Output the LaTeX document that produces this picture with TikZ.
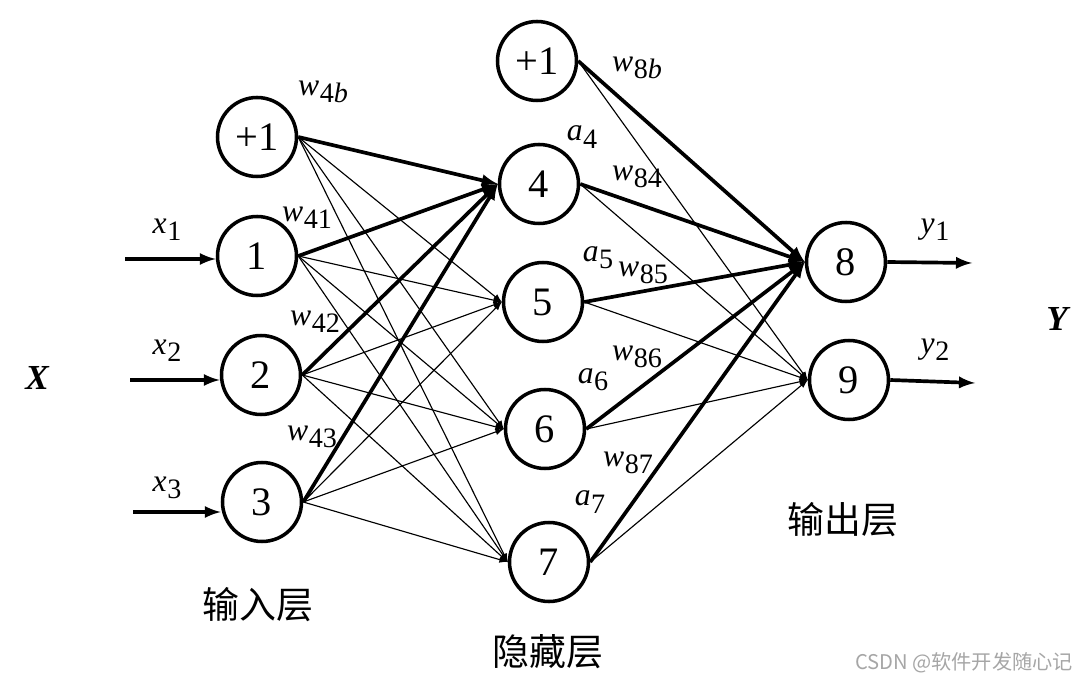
\documentclass[tikz,border=0pt]{standalone}
\usepackage{fontspec}
\setmainfont{Liberation Serif}
\newfontfamily\cjk{Noto Sans CJK SC}
\newcommand{\wsub}[2]{\textit{#1}\kern0.3pt\raisebox{-0.5ex}{\fontsize{16}{16}\selectfont #2}}

\tikzset{
  neuron/.style={circle,draw,line width=2pt,minimum size=15.8mm,inner sep=0pt,font=\fontsize{23}{26}\selectfont},
  heavy/.style={->,>=latex,line width=2.1pt},
  light/.style={->,>=latex,line width=0.65pt},
  lbl/.style={font=\fontsize{18}{20}\selectfont},
  layer/.style={font=\cjk\fontsize{21}{24}\selectfont}
}

\begin{document}
\begin{tikzpicture}[x=0.2mm,y=-0.2mm]
\useasboundingbox (0,0) rectangle (1081,684);
% neurons
\node[neuron] (b1) at (257,137) {+1};
\node[neuron] (n1) at (257,256) {1};
\node[neuron] (n2) at (261,375) {2};
\node[neuron] (n3) at (262,502) {3};
\node[neuron] (b2) at (537,61) {+1};
\node[neuron] (n4) at (539,184) {4};
\node[neuron] (n5) at (543,302) {5};
\node[neuron] (n6) at (545,429) {6};
\node[neuron] (n7) at (549,562) {7};
\node[neuron] (n8) at (846,262) {8};
\node[neuron] (n9) at (849,380) {9};
% inputs and outputs
\coordinate (in1) at (125,259);
\coordinate (in2) at (130,380);
\coordinate (in3) at (133,512);
\coordinate (out1) at (972,263);
\coordinate (out2) at (975,383);
\draw[heavy] (in1) -- (in1 -| n1.west);
\draw[heavy] (in2) -- (in2 -| n2.west);
\draw[heavy] (in3) -- (in3 -| n3.west);
\draw[heavy] (n8.east) -- (out1);
\draw[heavy] (n9.east) -- (out2);
% weights
\foreach \s in {b1,n1,n2,n3} {
  \draw[heavy] (\s.east) -- (n4.west);
  \foreach \t in {n5,n6,n7} \draw[light] (\s.east) -- (\t.west);
}
\foreach \s in {b2,n4,n5,n6,n7} {
  \draw[heavy] (\s.east) -- (n8.west);
  \draw[light] (\s.east) -- (n9.west);
}
% labels
\node[lbl] (x1) at (167,230) {\wsub{x}{1}};
\node[lbl] (x2) at (167,351) {\wsub{x}{2}};
\node[lbl] (x3) at (167,488) {\wsub{x}{3}};
\node[lbl] (y1) at (935,230) {\wsub{y}{1}};
\node[lbl] (y2) at (935,350) {\wsub{y}{2}};
\node[font=\fontsize{20}{22}\selectfont\bfseries\itshape] (bigx) at (37,378) {X};
\node[font=\fontsize{20}{22}\selectfont\bfseries\itshape] (bigy) at (1057,319) {Y};
\node[lbl] (w4b) at (323,92) {\wsub{w}{4\textit{b}}};
\node[lbl] (w41) at (307,218) {\wsub{w}{41}};
\node[lbl] (w42) at (315,322) {\wsub{w}{42}};
\node[lbl] (w43) at (312,437) {\wsub{w}{43}};
\node[lbl] (w8b) at (637,68) {\wsub{w}{8\textit{b}}};
\node[lbl] (w84) at (637,177) {\wsub{w}{84}};
\node[lbl] (w85) at (643,273) {\wsub{w}{85}};
\node[lbl] (w86) at (637,357) {\wsub{w}{86}};
\node[lbl] (w87) at (628,463) {\wsub{w}{87}};
\node[lbl] (a4) at (582,137) {\wsub{a}{4}};
\node[lbl] (a5) at (598,258) {\wsub{a}{5}};
\node[lbl] (a6) at (593,380) {\wsub{a}{6}};
\node[lbl] (a7) at (590,502) {\wsub{a}{7}};
\node[layer] (inlayer) at (258,605) {输入层};
\node[layer] (hidlayer) at (548,652) {隐藏层};
\node[layer] (outlayer) at (843,520) {输出层};
\node[font=\cjk\fontsize{11.5}{13}\selectfont,text=black!35] (mark) at (964,663) {CSDN @软件开发随心记};
\end{tikzpicture}
\end{document}
